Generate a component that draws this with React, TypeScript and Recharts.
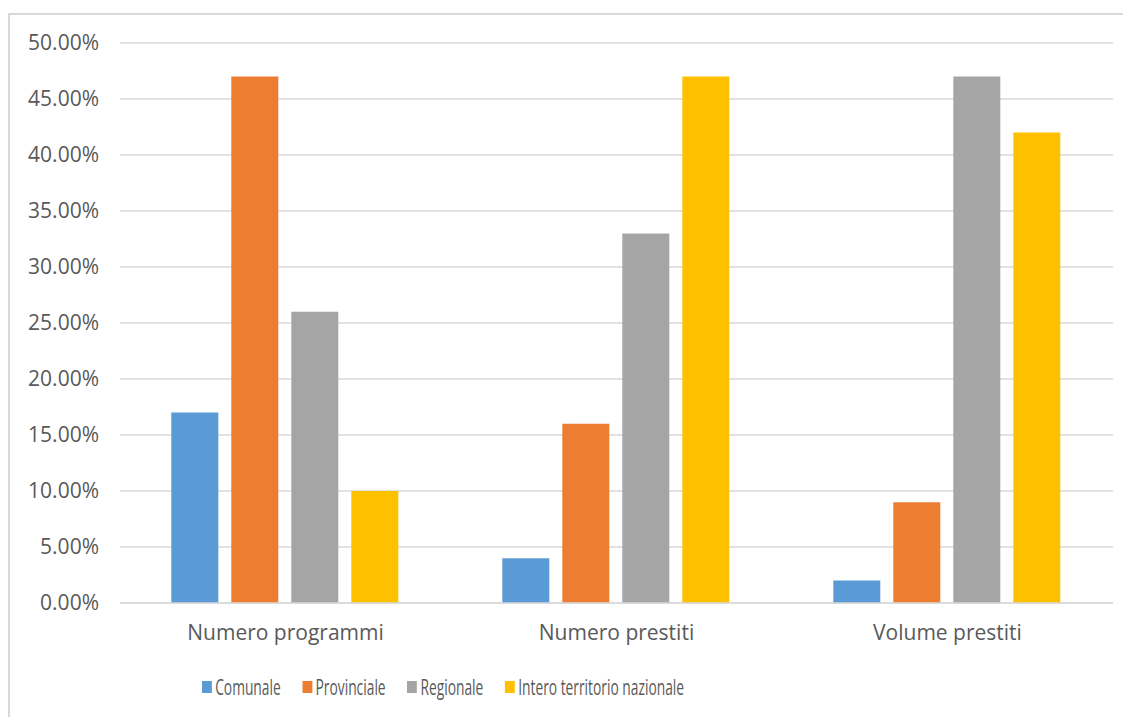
import React from 'react'
import { BarChart, Bar, XAxis, YAxis, CartesianGrid, Legend } from 'recharts'

const categories = ['Numero programmi', 'Numero prestiti', 'Volume prestiti']
const comunale = [17, 4, 2]
const provinciale = [47, 16, 9]
const regionale = [26, 33, 47]
const intero = [10, 47, 42]
const yTicks = [0, 5, 10, 15, 20, 25, 30, 35, 40, 45, 50]

const series = [
	{ key: 'Comunale', color: '#5B9BD5' },
	{ key: 'Provinciale', color: '#ED7D31' },
	{ key: 'Regionale', color: '#A5A5A5' },
	{ key: 'Intero territorio nazionale', color: '#FFC000' }
]

const data = categories.map((name, i) => ({
	name,
	Comunale: comunale[i],
	Provinciale: provinciale[i],
	Regionale: regionale[i],
	'Intero territorio nazionale': intero[i]
}))

const font = '"Open Sans", sans-serif'

function LegendContent() {
	return (
		<div style={{ display: 'flex', justifyContent: 'flex-start', transform: 'scaleX(0.657)', transformOrigin: 'left center', height: 30 }}>
			{series.map((s) => (
				<div key={s.key} style={{ display: 'flex', alignItems: 'center', marginRight: 33 }}>
					<span style={{ width: 15, height: 12, background: s.color, display: 'inline-block', marginRight: 5 }} />
					<span style={{ fontFamily: font, fontSize: 21, color: '#595959', whiteSpace: 'nowrap' }}>{s.key}</span>
				</div>
			))}
		</div>
	)
}

export default function App() {
	return (
		<div style={{ marginTop: 5, width: 1122, height: 704, borderTop: '2px solid #d9d9d9', borderLeft: '2px solid #d9d9d9', borderRight: '2px solid #d9d9d9', boxSizing: 'border-box', background: '#fff' }}>
			<BarChart
				width={1118}
				height={702}
				data={data}
				margin={{ top: 28, right: 15, left: 0, bottom: 15 }}
				barCategoryGap="15.5%"
				barGap={13}
			>
				<CartesianGrid vertical={false} stroke="#d9d9d9" strokeWidth={1.5} />
				<XAxis
					dataKey="name"
					tickLine={false}
					axisLine={{ stroke: '#d9d9d9', strokeWidth: 1.5 }}
					tick={{ fill: '#595959', fontSize: 21, fontFamily: font }}
					tickMargin={16}
					height={69}
				/>
				<YAxis
					domain={[0, 50]}
					ticks={yTicks}
					tickFormatter={(v: number) => `${v.toFixed(2)}%`}
					axisLine={false}
					tickLine={false}
					tickSize={0}
					tickMargin={21}
					width={110}
					tick={{ fill: '#595959', fontSize: 21, fontFamily: font }}
				/>
				<Legend
					verticalAlign="bottom"
					content={<LegendContent />}
					wrapperStyle={{ left: 192, width: 700 }}
				/>
				{series.map((s) => (
					<Bar key={s.key} dataKey={s.key} fill={s.color} isAnimationActive={false} />
				))}
			</BarChart>
		</div>
	)
}
